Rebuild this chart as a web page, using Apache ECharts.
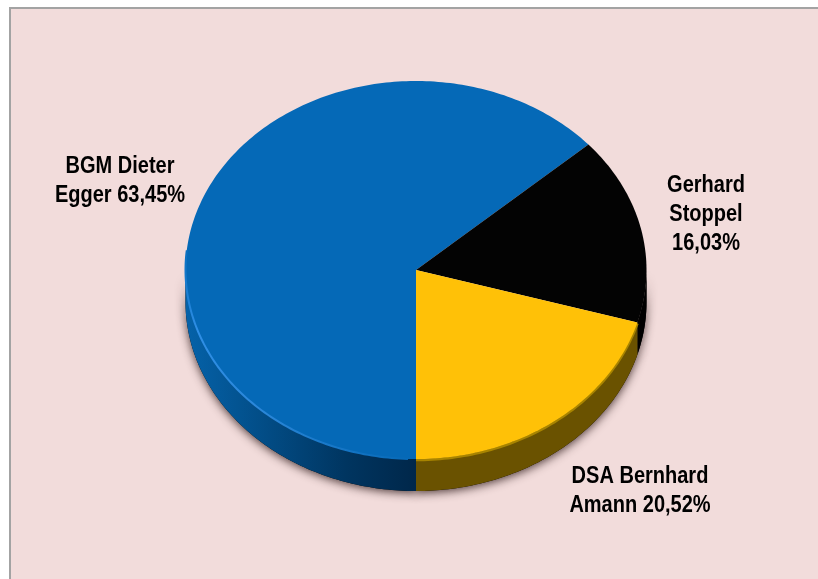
<!DOCTYPE html>
<html><head><meta charset="utf-8">
<style>html,body{margin:0;padding:0;background:#fff;overflow:hidden}#c{width:818px;height:579px}</style>
<script src="https://cdn.jsdelivr.net/npm/echarts@6/dist/echarts.min.js"></script>
</head><body><div id="c"></div>
<script>
const categories = ['BGM Dieter Egger', 'Gerhard Stoppel', 'DSA Bernhard Amann'];
const shareValues = [63.45, 16.03, 20.52];
const labelTexts = ['BGM Dieter\nEgger 63,45%', 'Gerhard\nStoppel\n16,03%', 'DSA Bernhard\nAmann 20,52%'];
const topColors = ['#0569B7', '#030303', '#FFC107'];

const CX = 416, CY = 270, RX = 230.5, RY = 189, DEPTH = 32;
const labelAnchors = [[120, 181], [706, 215], [640, 491.5]];
const wallFills = [
  { type: 'linear', global: true, x: CX - RX, y: 0, x2: CX, y2: 0, colorStops: [
    { offset: 0, color: '#0562A9' }, { offset: 0.35, color: '#024C85' },
    { offset: 0.7, color: '#003560' }, { offset: 1, color: '#00274A' }] },
  '#000000',
  '#6A5200'
];
const total = shareValues.reduce((a, b) => a + b, 0);

function pt(deg, dy) {
  const r = deg * Math.PI / 180;
  return [CX + RX * Math.cos(r), CY + RY * Math.sin(r) + (dy || 0)];
}
function arc(a, b, dy) {
  const pts = [], n = Math.max(2, Math.ceil(Math.abs(b - a)));
  for (let i = 0; i <= n; i++) pts.push(pt(a + (b - a) * i / n, dy));
  return pts;
}
function renderItem(params, api) {
  const i = params.dataIndex;
  let cum = 0;
  for (let k = 0; k < i; k++) cum += shareValues[k];
  const start = 90 + cum / total * 360;
  const end = start + api.value(0) / total * 360;
  const children = [];
  [[0, 180], [360, 540]].forEach(([lo, hi]) => {
    const a = Math.max(start, lo), b = Math.min(end, hi);
    if (b <= a) return;
    const poly = arc(a, b, 0).concat(arc(b, a, DEPTH));
    children.push({ type: 'polygon', z2: 1, shape: { points: poly },
      style: { fill: '#000', shadowBlur: 10, shadowColor: 'rgba(50,30,30,0.85)', shadowOffsetY: 2 } });
    children.push({ type: 'polygon', z2: 2, shape: { points: poly },
      style: { fill: wallFills[i] } });
    if (i === 2) {
      children.push({ type: 'polyline', z2: 2.5, shape: { points: arc(a, b, 1) },
        style: { fill: null, lineWidth: 2.5, stroke: '#A88400' } });
    }
  });
  children.push({ type: 'polygon', z2: 3,
    shape: { points: [[CX, CY]].concat(arc(start, end, 0)) },
    style: { fill: api.visual('color') } });
  if (i === 0) {
    children.push({ type: 'polyline', z2: 4, shape: { points: arc(start + 2, 186, 0) },
      style: { fill: null, lineWidth: 2, stroke: { type: 'linear', global: true,
        x: CX, y: CY + RY, x2: CX - RX, y2: CY - 20, colorStops: [
          { offset: 0, color: '#0569B7' }, { offset: 0.45, color: '#2A86D8' },
          { offset: 0.8, color: '#2F8FE6' }, { offset: 1, color: '#0A70C0' }] } } });
  }
  children.push({ type: 'text', z2: 10, x: labelAnchors[i][0], y: labelAnchors[i][1],
    scaleX: 0.87,
    style: { text: labelTexts[i], fill: '#000', align: 'center', verticalAlign: 'middle',
      font: 'bold 23px "Liberation Sans", Arial, sans-serif', lineHeight: 29 } });
  return { type: 'group', children };
}
const chart = echarts.init(document.getElementById('c'), null, { renderer: 'canvas' });
chart.setOption({
  animation: false,
  backgroundColor: '#fff',
  graphic: [{ type: 'rect', z: -1, silent: true,
    shape: { x: 10, y: 8, width: 900, height: 700 },
    style: { fill: '#F2DCDB', stroke: '#A3A3A3', lineWidth: 2 } }],
  series: [{
    type: 'custom', coordinateSystem: 'none', silent: true,
    renderItem,
    data: categories.map((name, i) => ({ name, value: shareValues[i], itemStyle: { color: topColors[i] } }))
  }]
});
</script></body></html>
